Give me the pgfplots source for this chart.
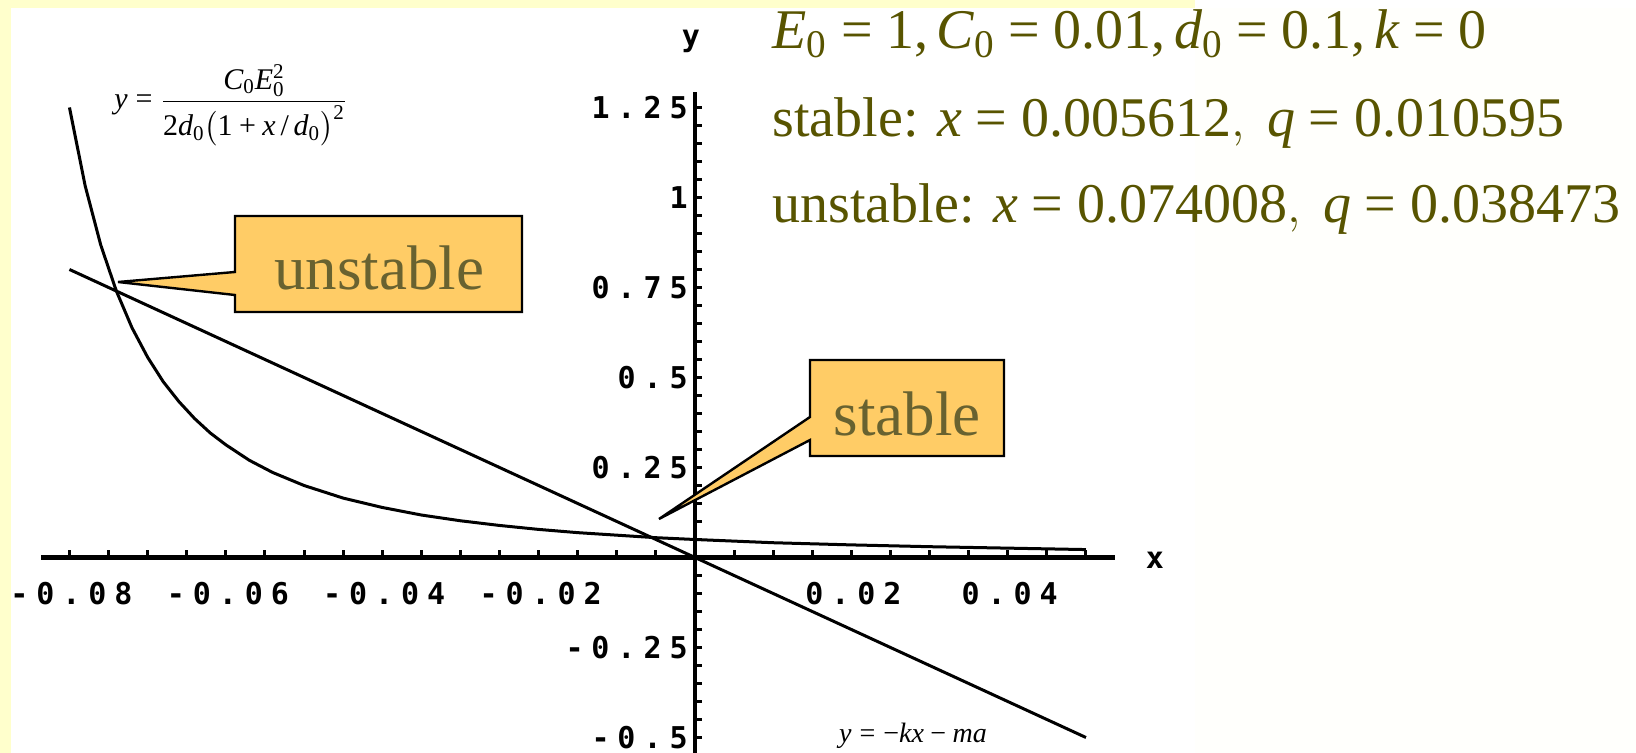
\documentclass[border=0pt]{standalone}
\usepackage{amsmath}
\usepackage{fontspec}
\usepackage{pgfplots}
\pgfplotsset{compat=1.18}

\setmainfont{Liberation Serif}
\newfontfamily\tms{Liberation Serif}
\newfontfamily\tkfont[LetterSpace=26.5]{DejaVu Sans Mono}
\newcommand\tickfont{\tkfont\fontsize{15}{15}\bfseries\selectfont}

% Times glyphs inside math
\newcommand\vi[1]{\text{\tms\itshape #1}}
\newcommand\vr[1]{\text{\tms\upshape #1}}
\newcommand\eq{\mathrel{\vr{=}}}
\newcommand\pl{\mathbin{\vr{+}}}
\newcommand\mi{\mathbin{\vr{−}}}

\definecolor{slidebg}{RGB}{255,255,204}
\definecolor{slideright}{RGB}{255,255,252}
\definecolor{olive}{RGB}{88,84,0}
\definecolor{calltext}{RGB}{104,98,48}
\definecolor{callout}{RGB}{255,204,102}

\pgfplotstableread{
x y
-0.080 1.250
-0.078 1.033
-0.076 0.868
-0.074 0.740
-0.072 0.638
-0.070 0.556
-0.068 0.488
-0.066 0.433
-0.064 0.386
-0.062 0.346
-0.060 0.313
-0.057 0.270
-0.054 0.236
-0.050 0.200
-0.045 0.165
-0.040 0.139
-0.035 0.118
-0.030 0.102
-0.025 0.089
-0.020 0.078
-0.015 0.069
-0.010 0.062
-0.005 0.055
0.000 0.050
0.010 0.041
0.020 0.035
0.030 0.030
0.040 0.026
0.050 0.022
}\forcecurve

\pgfplotstableread{
x y
-0.080 0.800
0.050 -0.500
}\springline

\begin{document}
\begin{tikzpicture}
\useasboundingbox (0,0) rectangle (818pt,376.5pt);
\fill[white] (0,0) rectangle (818pt,376.5pt);
% slide background, in pixel units from the top left corner
\begin{scope}[x=0.5pt,y=-0.5pt,shift={(0pt,376.5pt)}]
  \fill[slideright] (1195,8) rectangle (1636,753);
  \fill[slidebg] (0,0) rectangle (1195,8);
  \fill[slidebg] (0,0) rectangle (11,753);
\end{scope}

\begin{axis}[
  at={(347.5pt,97.75pt)}, anchor=origin,
  scale only axis, width=536.8pt, height=330.5pt,
  xmin=-0.0836, xmax=0.0537, ymin=-0.543, ymax=1.293,
  axis lines=middle,
  axis line style={-, line width=2.2pt},
  every inner x axis line/.append style={-},
  every inner y axis line/.append style={-},
  clip=false,
  scaled x ticks=false, scaled y ticks=false,
  tick align=inside,
  major tick length=3.6pt, minor tick length=3.6pt,
  every tick/.style={black, line width=1.5pt},
  xtick={-0.08,-0.06,-0.04,-0.02,0.02,0.04},
  xticklabels={-0.08,-0.06,-0.04,-0.02,0.02,0.04},
  minor xtick={-0.075,-0.07,-0.065,-0.055,-0.05,-0.045,-0.035,-0.03,-0.025,-0.015,-0.01,-0.005,0.005,0.01,0.015,0.025,0.03,0.035,0.045,0.05},
  ytick={-0.5,-0.25,0.25,0.5,0.75,1,1.25},
  yticklabels={-0.5,-0.25,0.25,0.5,0.75,1,1.25},
  minor ytick={-0.45,-0.4,-0.35,-0.3,-0.2,-0.15,-0.1,-0.05,0.05,0.1,0.15,0.2,0.3,0.35,0.4,0.45,0.55,0.6,0.65,0.7,0.8,0.85,0.9,0.95,1.05,1.1,1.15,1.2},
  xticklabel style={font=\tickfont, anchor=base, inner sep=0pt, yshift=-23.75pt, xshift=1pt},
  yticklabel style={font=\tickfont, anchor=base east, inner sep=0pt, xshift=-3.5pt, yshift=-5.5pt},
]
  \addplot[black, line width=1.5pt, line join=round] table[x=x,y=y] {\forcecurve};
  \addplot[black, line width=1.5pt] table[x=x,y=y] {\springline};
\end{axis}

\begin{scope}[x=0.5pt,y=-0.5pt,shift={(0pt,376.5pt)}]
  % axis names
  \node[font=\tickfont, inner sep=0pt, anchor=base] at (691,47) {y};
  \node[font=\tickfont, inner sep=0pt, anchor=base] at (1155,569) {x};

  % the two curves' formulas
  \node[font=\tms\fontsize{15}{18}\selectfont, inner sep=0pt, anchor=base west] at (114,109)
    {$\vi{y} \eq \dfrac{\vi{C}_{\vr{0}}\vi{E}_{\vr{0}}^{\vr{2}}}{\vr{2}\vi{d}_{\vr{0}}\bigl(\vr{1}\pl\vi{x}\,\vr{/}\,\vi{d}_{\vr{0}}\bigr)^{\vr{2}}}$};
  \node[font=\tms\fontsize{14}{16}\selectfont, inner sep=0pt, anchor=base] at (913,743)
    {$\vi{y} \eq \mi\vi{k}\vi{x} \mi \vi{m}\vi{a}$};

  % parameters and equilibria
  \begin{scope}[every node/.style={font=\tms\fontsize{28}{34}\selectfont, text=olive, inner sep=0pt, anchor=base west}]
    \node at (772,49) {$\vi{E}_{\vr{0}} \eq \vr{1,}\,\vi{C}_{\vr{0}} \eq \vr{0.01,}\,\vi{d}_{\vr{0}} \eq \vr{0.1,}\,\vi{k} \eq \vr{0}$};
    \node at (772,137) {stable: $\vi{x} \eq \vr{0.005612},\ \vi{q} \eq \vr{0.010595}$};
    \node at (772,223) {unstable: $\vi{x} \eq \vr{0.074008},\ \vi{q} \eq \vr{0.038473}$};
  \end{scope}

  % callouts
  \filldraw[fill=callout, draw=black, line width=1.2pt, line join=miter]
    (235,216) -- (522,216) -- (522,312) -- (235,312) -- (235,295) -- (118,282) -- (235,272) -- cycle;
  \node[font=\tms\fontsize{31.5}{36}\selectfont, text=calltext, inner sep=0pt, anchor=base] at (379,290) {unstable};
  \filldraw[fill=callout, draw=black, line width=1.2pt, line join=miter]
    (810,360) -- (1004,360) -- (1004,456) -- (810,456) -- (810,440) -- (659,519) -- (810,417) -- cycle;
  \node[font=\tms\fontsize{31.5}{36}\selectfont, text=calltext, inner sep=0pt, anchor=base] at (907,436) {stable};
\end{scope}
\end{tikzpicture}
\end{document}
